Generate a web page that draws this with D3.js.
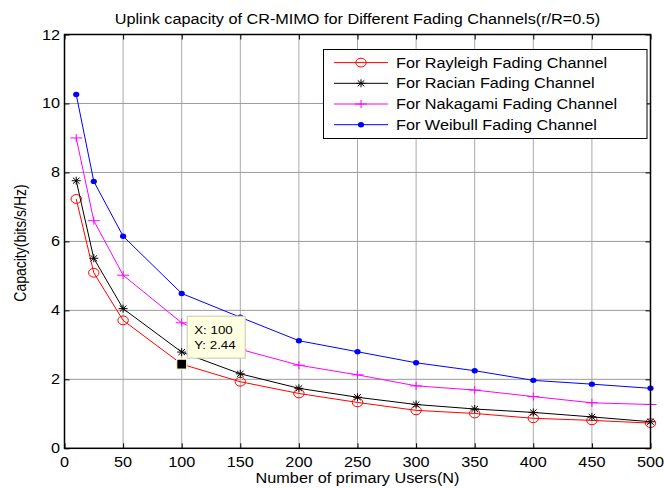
<!DOCTYPE html>
<html>
<head>
<meta charset="utf-8">
<script src="https://cdn.jsdelivr.net/npm/d3@7"></script>
<style>
    body { margin: 0; background: #fff; }
    svg text { font-family: "Liberation Sans", Arial, sans-serif; font-size: 14px; fill: #000; }
</style>
</head>
<body>
<div id="chart"></div>
<script>
// values
const users = [10, 25, 50, 100, 150, 200, 250, 300, 350, 400, 450, 500];
const rayleigh = [7.23, 5.09, 3.71, 2.44, 1.93, 1.59, 1.33, 1.10, 1.01, 0.87, 0.81, 0.73];
const racian = [7.76, 5.51, 4.05, 2.79, 2.16, 1.74, 1.48, 1.27, 1.14, 1.04, 0.91, 0.77];
const nakagami = [9.00, 6.60, 5.02, 3.64, 2.87, 2.41, 2.13, 1.81, 1.69, 1.50, 1.32, 1.27];
const weibull = [10.26, 7.74, 6.15, 4.49, 3.80, 3.12, 2.80, 2.48, 2.25, 1.97, 1.86, 1.74];

const seriesNames = ['For Rayleigh Fading Channel', 'For Racian Fading Channel', 'For Nakagami Fading Channel', 'For Weibull Fading Channel'];
const xTicks = [0, 50, 100, 150, 200, 250, 300, 350, 400, 450, 500];
const yTicks = [0, 2, 4, 6, 8, 10, 12];
const tipIndex = 3; // data tip on the Rayleigh curve at N = 100

let width = 664, height = 488;
let plotLeft = 64.5, plotRight = 650.5, plotTop = 34.5, plotBottom = 448.3;
let sx = 1.16; // the source figure is stretched sideways

let series = [
    {name: seriesNames[0], values: rayleigh, color: '#ff0000', marker: 'circle'},
    {name: seriesNames[1], values: racian, color: '#000000', marker: 'star'},
    {name: seriesNames[2], values: nakagami, color: '#ff00ff', marker: 'plus'},
    {name: seriesNames[3], values: weibull, color: '#0000ff', marker: 'dot'}
];

let x = d3.scaleLinear().domain([0, 500]).range([plotLeft, plotRight]);
let y = d3.scaleLinear().domain([0, 12]).range([plotBottom, plotTop]);

let svg = d3.select('#chart')
    .append('svg')
    .attr('width', width)
    .attr('height', height);

function label(g, px, py, txt, anchor) {
    return g.append('text')
        .attr('transform', `translate(${px},${py}) scale(${sx},1)`)
        .attr('text-anchor', anchor)
        .text(txt);
}

function drawMarker(g, type, color, px, py) {
    if (type === 'circle') {
        g.append('ellipse').attr('cx', px).attr('cy', py).attr('rx', 5.2).attr('ry', 4.4)
            .attr('fill', 'none').attr('stroke', color).attr('stroke-width', 1);
    } else if (type === 'dot') {
        g.append('ellipse').attr('cx', px).attr('cy', py).attr('rx', 3.1).attr('ry', 2.7)
            .attr('fill', color);
    } else if (type === 'plus') {
        g.append('path').attr('d', `M${px - 6},${py}H${px + 6}M${px},${py - 4}V${py + 4}`)
            .attr('stroke', color).attr('stroke-width', 1).attr('fill', 'none');
    } else {
        g.append('path')
            .attr('d', `M${px - 4.5},${py}H${px + 4.5}M${px},${py - 4}V${py + 4}M${px - 3.3},${py - 3}L${px + 3.3},${py + 3}M${px - 3.3},${py + 3}L${px + 3.3},${py - 3}`)
            .attr('stroke', color).attr('stroke-width', 1).attr('fill', 'none');
    }
}

// grid
svg.append('g')
    .attr('id', 'gridX')
    .selectAll('line')
    .data(xTicks.slice(1, -1))
    .join('line')
    .attr('x1', d => x(d)).attr('x2', d => x(d))
    .attr('y1', plotTop).attr('y2', plotBottom)
    .attr('stroke', '#555')
    .attr('stroke-dasharray', '1,1');

svg.append('g')
    .attr('id', 'gridY')
    .selectAll('line')
    .data(yTicks.slice(1, -1))
    .join('line')
    .attr('x1', plotLeft).attr('x2', plotRight)
    .attr('y1', d => y(d)).attr('y2', d => y(d))
    .attr('stroke', '#9a9a9a');

// inward ticks on all four sides
svg.append('g').attr('transform', `translate(0,${plotBottom})`)
    .call(d3.axisBottom(x).tickValues(xTicks).tickSize(-5).tickSizeOuter(0).tickFormat(''));
svg.append('g').attr('transform', `translate(0,${plotTop})`)
    .call(d3.axisTop(x).tickValues(xTicks).tickSize(-5).tickSizeOuter(0).tickFormat(''));
svg.append('g').attr('transform', `translate(${plotLeft},0)`)
    .call(d3.axisLeft(y).tickValues(yTicks).tickSize(-5).tickSizeOuter(0).tickFormat(''));
svg.append('g').attr('transform', `translate(${plotRight},0)`)
    .call(d3.axisRight(y).tickValues(yTicks).tickSize(-5).tickSizeOuter(0).tickFormat(''));
svg.selectAll('.domain').remove();

// tick labels
let labels = svg.append('g').attr('id', 'tickLabels');
xTicks.forEach(t => label(labels, x(t), plotBottom + 19, t, 'middle'));
yTicks.forEach(t => label(labels, plotLeft - 4.5, y(t) + 5, t, 'end'));

// curves
let lineGen = d3.line()
    .x((d, i) => x(users[i]))
    .y(d => y(d));

series.forEach(s => {
    let g = svg.append('g');
    g.append('path')
        .attr('d', lineGen(s.values))
        .attr('fill', 'none')
        .attr('stroke', s.color)
        .attr('stroke-width', 1);
    s.values.forEach((v, i) => drawMarker(g, s.marker, s.color, x(users[i]), y(v)));
});

// axes box
svg.append('rect')
    .attr('x', plotLeft).attr('y', plotTop)
    .attr('width', plotRight - plotLeft).attr('height', plotBottom - plotTop)
    .attr('fill', 'none')
    .attr('stroke', '#000')
    .attr('stroke-width', 1.5);

// data tip
let tipX = x(users[tipIndex]), tipY = y(rayleigh[tipIndex]);
let tip = svg.append('g').attr('id', 'dataTip');
tip.append('rect')
    .attr('x', tipX + 5.5).attr('y', tipY - 48)
    .attr('width', 58).attr('height', 42)
    .attr('fill', '#ffffe1')
    .attr('stroke', '#c8c8b4');
tip.append('rect')
    .attr('x', tipX - 5).attr('y', tipY - 5)
    .attr('width', 10).attr('height', 10)
    .attr('fill', '#000')
    .attr('stroke', '#ffffe1')
    .attr('stroke-width', 1.2);
label(tip, tipX + 12.5, tipY - 30.5, `X: ${users[tipIndex]}`, 'start').style('font-size', '11.5px');
label(tip, tipX + 12.5, tipY - 15.5, `Y: ${rayleigh[tipIndex]}`, 'start').style('font-size', '11.5px');

// legend
let legend = svg.append('g').attr('id', 'legend');
legend.append('rect')
    .attr('x', 323.5).attr('y', 49.5)
    .attr('width', 323.5).attr('height', 89)
    .attr('fill', '#fff')
    .attr('stroke', '#000')
    .attr('stroke-width', 1);
series.forEach((s, i) => {
    let ly = 62.6 + i * 20.7;
    legend.append('line')
        .attr('x1', 334).attr('x2', 388)
        .attr('y1', ly).attr('y2', ly)
        .attr('stroke', s.color);
    drawMarker(legend, s.marker, s.color, 361, ly);
    label(legend, 396, ly + 5, s.name, 'start');
});

// titles
label(svg, (plotLeft + plotRight) / 2, 23.5, 'Uplink capacity of CR-MIMO for Different Fading Channels(r/R=0.5)', 'middle');
label(svg, (plotLeft + plotRight) / 2, 483, 'Number of primary Users(N)', 'middle');
svg.append('text')
    .attr('transform', `translate(26,243) scale(${sx},1) rotate(-90)`)
    .attr('text-anchor', 'middle')
    .text('Capacity(bits/s/Hz)');
</script>
</body>
</html>
